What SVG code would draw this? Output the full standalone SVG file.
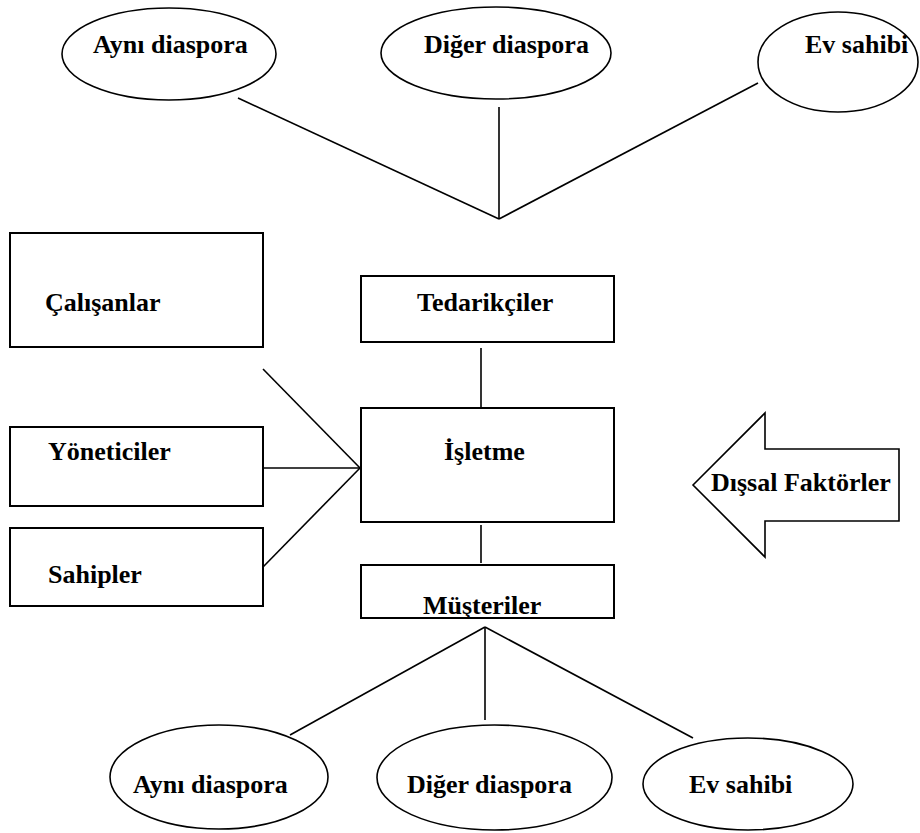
<svg xmlns="http://www.w3.org/2000/svg" width="920" height="833" viewBox="0 0 920 833">
<style>
.box{fill:#fff;stroke:#000;stroke-width:2}
.ell{fill:#fff;stroke:#000;stroke-width:1.6}
.ln{stroke:#000;stroke-width:1.6;fill:none}
text{font-family:"Liberation Serif","Times New Roman",serif;font-weight:bold;font-size:26px;fill:#000}
</style>
<rect width="920" height="833" fill="#fff"/>
<g id="connectors">
<line class="ln" x1="238" y1="98" x2="499" y2="219"/>
<line class="ln" x1="499" y1="107" x2="499" y2="219"/>
<line class="ln" x1="758" y1="83" x2="499" y2="219"/>
<line class="ln" x1="481" y1="348" x2="481" y2="408"/>
<line class="ln" x1="481" y1="525" x2="481" y2="563"/>
<line class="ln" x1="263" y1="369" x2="360" y2="468"/>
<line class="ln" x1="263" y1="468" x2="360" y2="468"/>
<line class="ln" x1="263" y1="567" x2="360" y2="468"/>
<line class="ln" x1="485" y1="627" x2="290" y2="735"/>
<line class="ln" x1="485" y1="627" x2="485" y2="720"/>
<line class="ln" x1="485" y1="627" x2="693" y2="738"/>
</g>
<g id="top-ayni"><ellipse class="ell" cx="169" cy="54" rx="107" ry="46"/><text x="93" y="53">Aynı diaspora</text></g>
<g id="top-diger"><ellipse class="ell" cx="496" cy="53" rx="115" ry="46"/><text x="424" y="53">Diğer diaspora</text></g>
<g id="top-ev"><ellipse class="ell" cx="838" cy="62" rx="80" ry="50"/><text x="805" y="53">Ev sahibi</text></g>
<g id="calisanlar"><rect class="box" x="10" y="233" width="253" height="114"/><text x="45" y="311">Çalışanlar</text></g>
<g id="tedarikciler"><rect class="box" x="361" y="276" width="253" height="66"/><text x="417" y="311">Tedarikçiler</text></g>
<g id="isletme"><rect class="box" x="361" y="408" width="253" height="114"/><text x="444" y="460">İşletme</text></g>
<g id="yoneticiler"><rect class="box" x="10" y="427" width="253" height="79"/><text x="48" y="460">Yöneticiler</text></g>
<g id="sahipler"><rect class="box" x="10" y="528" width="253" height="78"/><text x="48" y="583">Sahipler</text></g>
<g id="musteriler"><rect class="box" x="361" y="565" width="253" height="53"/><text x="423" y="614">Müşteriler</text></g>
<g id="dissal"><polygon class="ell" points="693,485 765,413 765,449 899,449 899,521 765,521 765,557"/><text x="711" y="491">Dışsal Faktörler</text></g>
<g id="bot-ayni"><ellipse class="ell" cx="219" cy="777" rx="109" ry="52"/><text x="133" y="793">Aynı diaspora</text></g>
<g id="bot-diger"><ellipse class="ell" cx="494.5" cy="777.5" rx="117.5" ry="52.5"/><text x="407" y="793">Diğer diaspora</text></g>
<g id="bot-ev"><ellipse class="ell" cx="748" cy="784" rx="105" ry="46"/><text x="689" y="793">Ev sahibi</text></g>
</svg>
